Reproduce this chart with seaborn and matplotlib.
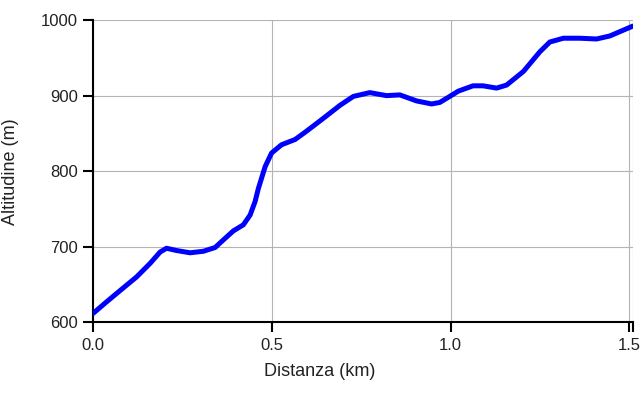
import matplotlib
matplotlib.use("Agg")
import matplotlib.pyplot as plt
import seaborn as sns
import pandas as pd

distance_km = [0.0, 0.037, 0.075, 0.121, 0.159, 0.187, 0.205, 0.233, 0.271, 0.308,
               0.341, 0.364, 0.392, 0.420, 0.439, 0.453, 0.462, 0.481, 0.499, 0.527,
               0.565, 0.597, 0.644, 0.690, 0.728, 0.774, 0.821, 0.858, 0.905, 0.947,
               0.970, 0.998, 1.022, 1.063, 1.091, 1.129, 1.157, 1.204, 1.250, 1.278,
               1.316, 1.362, 1.409, 1.446, 1.510]
altitude_m = [612, 627, 642, 660, 678, 693, 698, 695, 692, 694,
              699, 709, 721, 729, 742, 760, 777, 806, 824, 835,
              842, 853, 870, 887, 899, 904, 900, 901, 893, 889,
              891, 899, 906, 913, 913, 910, 914, 932, 958, 971,
              976, 976, 975, 979, 992]
x_ticks = [0.0, 0.5, 1.0, 1.5]
x_tick_labels = ["0.0", "0.5", "1.0", "1.5"]
y_ticks = [600, 700, 800, 900, 1000]

sns.set_style("white")
plt.rcParams["font.family"] = ["Liberation Sans", "DejaVu Sans"]

df = pd.DataFrame({"Distanza (km)": distance_km, "Altitudine (m)": altitude_m})

fig = plt.figure(figsize=(6.4, 3.94), dpi=100)
ax = fig.add_axes([0.1458, 0.182, 0.9886 - 0.1458, 0.949 - 0.182])
sns.lineplot(data=df, x="Distanza (km)", y="Altitudine (m)", ax=ax,
             color="#0000ff", linewidth=3.6, solid_capstyle="round",
             solid_joinstyle="round", zorder=3)

xmax = distance_km[-1]
ax.set_xlim(0, xmax)
ax.set_ylim(600, 1000)
ax.set_xticks(x_ticks + [xmax])
ax.set_xticklabels(x_tick_labels + [""])
ax.set_yticks(y_ticks)
ax.grid(True, color="#b4b4b4", linewidth=0.8)
for s in ["top", "right"]:
    ax.spines[s].set_visible(False)
for s in ["left", "bottom"]:
    ax.spines[s].set_color("black")
    ax.spines[s].set_linewidth(1.5)
ax.tick_params(axis="both", direction="out", length=7, width=1.5, color="black",
               labelsize=12, labelcolor="#222222", pad=4, bottom=True, left=True)
ax.set_xlabel("Distanza (km)", fontsize=13, color="#222222")
ax.set_ylabel("Altitudine (m)", fontsize=13, color="#222222")
ax.xaxis.set_label_coords(0.42, -0.135)
ax.yaxis.set_label_coords(-0.137, 0.5)

fig.savefig("out.png", dpi=100)
